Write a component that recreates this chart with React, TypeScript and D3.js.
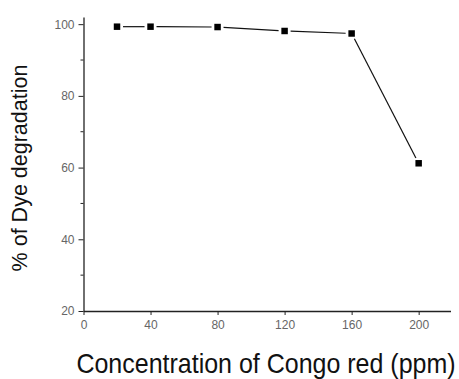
import React, { useEffect, useRef } from 'react';
import * as d3 from 'd3';

// Congo red concentration (ppm) vs. dye degradation (%)
const concentration = [20, 40, 80, 120, 160, 200];
const degradation = [99.3, 99.3, 99.2, 98.1, 97.4, 61.2];
const xTicks = [0, 40, 80, 120, 160, 200];
const yTicks = [20, 40, 60, 80, 100];
const yMinorTicks = [30, 50, 70, 90];

const W = 459;
const H = 379;

const App: React.FC = () => {
  const svgRef = useRef<SVGSVGElement>(null);

  useEffect(() => {
    if (!svgRef.current) return;
    const svg = d3.select(svgRef.current);
    svg.selectAll('*').remove();

    const font = "'Liberation Sans', Arial, sans-serif";

    const x = d3.scaleLinear().domain([0, 219]).range([83.5, 450.5]);
    const y = d3.scaleLinear().domain([20, 102]).range([311, 17]);

    // x axis
    const xAxis = svg.append('g')
      .attr('transform', `translate(0,${y(20)})`)
      .call(d3.axisBottom(x).tickValues(xTicks).tickSize(4).tickSizeOuter(0).tickPadding(5));
    xAxis.select('.domain').attr('stroke', '#222').attr('stroke-width', 1.3);
    xAxis.selectAll('.tick line').attr('stroke', '#222');
    xAxis.selectAll('.tick text')
      .attr('font-family', font)
      .attr('font-size', 12)
      .attr('fill', '#666');

    // y axis
    const yAxis = svg.append('g')
      .attr('transform', `translate(${x(0)},0)`)
      .call(d3.axisLeft(y).tickValues(yTicks).tickSize(5).tickSizeOuter(0).tickPadding(4));
    yAxis.select('.domain').attr('stroke', '#222').attr('stroke-width', 1.3);
    yAxis.selectAll('.tick line').attr('stroke', '#222');
    yAxis.selectAll('.tick text')
      .attr('font-family', font)
      .attr('font-size', 12)
      .attr('fill', '#666');

    // minor y ticks
    svg.append('g')
      .selectAll('line')
      .data(yMinorTicks)
      .join('line')
      .attr('x1', x(0) - 3)
      .attr('x2', x(0))
      .attr('y1', d => y(d))
      .attr('y2', d => y(d))
      .attr('stroke', '#222');

    // line segments with small gaps at the markers
    const pts = concentration.map((c, i) => [x(c), y(degradation[i])] as [number, number]);
    const gap = 6;
    const segs = d3.pairs(pts).map(([a, b]) => {
      const dx = b[0] - a[0];
      const dy = b[1] - a[1];
      const len = Math.hypot(dx, dy);
      const ux = dx / len;
      const uy = dy / len;
      return [a[0] + ux * gap, a[1] + uy * gap, b[0] - ux * gap, b[1] - uy * gap];
    });
    svg.append('g')
      .selectAll('line')
      .data(segs)
      .join('line')
      .attr('x1', d => d[0])
      .attr('y1', d => d[1])
      .attr('x2', d => d[2])
      .attr('y2', d => d[3])
      .attr('stroke', '#111')
      .attr('stroke-width', 1.2);

    // square markers
    const sym = d3.symbol().type(d3.symbolSquare).size(42);
    svg.append('g')
      .selectAll('path')
      .data(pts)
      .join('path')
      .attr('d', sym)
      .attr('transform', d => `translate(${d[0]},${d[1]})`)
      .attr('fill', '#000');

    // axis titles
    svg.append('text')
      .attr('transform', `translate(266,373) scale(1,1.1)`)
      .attr('text-anchor', 'middle')
      .attr('font-family', font)
      .attr('font-size', 25)
      .attr('fill', '#111')
      .text('Concentration of Congo red (ppm)');

    svg.append('text')
      .attr('transform', `translate(27,168) rotate(-90)`)
      .attr('text-anchor', 'middle')
      .attr('font-family', font)
      .attr('font-size', 21.5)
      .attr('fill', '#111')
      .text('% of Dye degradation');
  }, []);

  return (
    <svg
      ref={svgRef}
      width={W}
      height={H}
      style={{ position: 'absolute', left: 0, top: 0, background: '#fff' }}
    />
  );
};

export default App;
